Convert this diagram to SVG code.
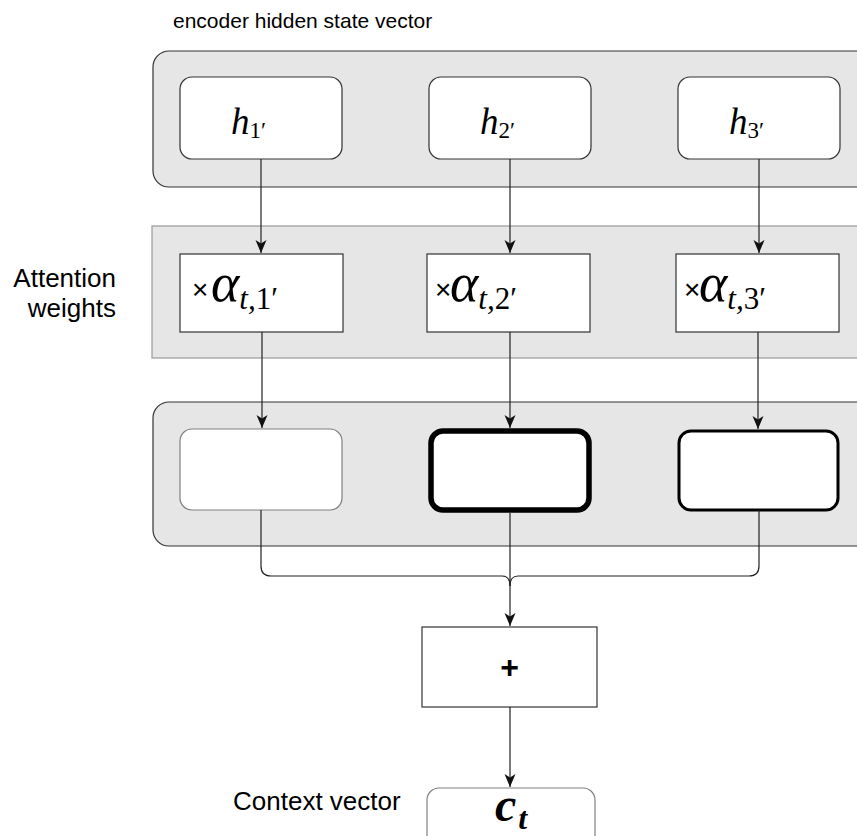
<svg xmlns="http://www.w3.org/2000/svg" width="857" height="836" viewBox="0 0 857 836">
<defs>
<style>
.lbl{font-family:"Liberation Sans",Arial,sans-serif;fill:#000;}
.math{font-family:"Liberation Serif","Times New Roman",serif;font-style:italic;fill:#000;}
.cont{fill:#e6e6e6;stroke:#333;stroke-width:1.2;}
.box{fill:#fff;stroke:#333;stroke-width:1.2;}
.conn{fill:none;stroke:#222;stroke-width:1.2;}
</style>
<marker id="arr" markerUnits="userSpaceOnUse" markerWidth="14" markerHeight="14" viewBox="0 0 14 14" refX="13" refY="7" orient="auto">
<path d="M0,1.5 L13,7 L0,12.5 L3.5,7 Z" fill="#111"/>
</marker>
</defs>
<rect width="857" height="836" fill="#fff"/>

<text class="lbl" x="173" y="28" font-size="21">encoder hidden state vector</text>
<text class="lbl" x="116" y="287" font-size="26" text-anchor="end">Attention</text>
<text class="lbl" x="116" y="317" font-size="26" text-anchor="end">weights</text>
<text class="lbl" x="233" y="810" font-size="26">Context vector</text>

<g id="encoder-container">
<rect class="cont" x="153" y="51" width="720" height="136" rx="16"/>
</g>
<g id="attention-container">
<rect x="152" y="226" width="720" height="132" fill="#e6e6e6" stroke="#999" stroke-width="1.2"/>
</g>
<g id="weighted-container">
<rect class="cont" x="153" y="402" width="720" height="144" rx="16"/>
</g>

<g id="h1"><rect class="box" x="180" y="77" width="162" height="82" rx="12"/>
<text class="math" x="231" y="134" font-size="37">h<tspan font-size="23" font-style="normal" dy="4">1′</tspan></text></g>
<g id="h2"><rect class="box" x="429" y="77" width="162" height="82" rx="12"/>
<text class="math" x="480" y="134" font-size="37">h<tspan font-size="23" font-style="normal" dy="4">2′</tspan></text></g>
<g id="h3"><rect class="box" x="678" y="77" width="162" height="82" rx="12"/>
<text class="math" x="729" y="134" font-size="37">h<tspan font-size="23" font-style="normal" dy="4">3′</tspan></text></g>

<g id="a1"><rect class="box" x="180" y="254" width="163" height="78"/>
<text class="lbl" x="192" y="299" font-size="28">×</text>
<text class="math" x="211" y="301" font-size="54">α<tspan font-size="31" dy="8">t,</tspan><tspan font-size="31" font-style="normal">1′</tspan></text></g>
<g id="a2"><rect class="box" x="427" y="254" width="163" height="78"/>
<text class="lbl" x="435" y="299" font-size="28">×</text>
<text class="math" x="450" y="301" font-size="54">α<tspan font-size="31" dy="8">t,</tspan><tspan font-size="31" font-style="normal">2′</tspan></text></g>
<g id="a3"><rect class="box" x="676" y="254" width="163" height="78"/>
<text class="lbl" x="684" y="299" font-size="28">×</text>
<text class="math" x="699" y="301" font-size="54">α<tspan font-size="31" dy="8">t,</tspan><tspan font-size="31" font-style="normal">3′</tspan></text></g>

<g id="w1"><rect x="180" y="429" width="162" height="81" rx="12" fill="#fff" stroke="#808080" stroke-width="1.2"/></g>
<g id="w2"><rect x="431" y="431" width="158" height="79" rx="12" fill="#fff" stroke="#000" stroke-width="5.5"/></g>
<g id="w3"><rect x="679" y="431" width="159" height="79" rx="12" fill="#fff" stroke="#000" stroke-width="3"/></g>

<g id="sum"><rect class="box" x="422" y="627" width="175" height="80"/>
<text class="lbl" x="509.5" y="678" font-size="32" font-weight="bold" text-anchor="middle">+</text></g>

<g id="ct"><rect x="427" y="788" width="168" height="70" rx="12" fill="#fff" stroke="#808080" stroke-width="1.2"/>
<text class="math" x="495" y="821" font-size="48" font-weight="bold">c<tspan font-size="32" dx="2" dy="8">t</tspan></text></g>

<g id="connectors">
<path class="conn" d="M261,159 V253" marker-end="url(#arr)"/>
<path class="conn" d="M510,159 V253" marker-end="url(#arr)"/>
<path class="conn" d="M759,159 V253" marker-end="url(#arr)"/>
<path class="conn" d="M262,332 V428" marker-end="url(#arr)"/>
<path class="conn" d="M510,332 V428" marker-end="url(#arr)"/>
<path class="conn" d="M758,332 V429" marker-end="url(#arr)"/>
<path class="conn" d="M261,510 V566 Q261,576 271,576 H502 Q510,576 510,586"/>
<path class="conn" d="M759,510 V566 Q759,576 749,576 H518 Q510,576 510,586"/>
<path class="conn" d="M510,513 V626" marker-end="url(#arr)"/>
<path class="conn" d="M510,707 V787" marker-end="url(#arr)"/>
</g>
</svg>
